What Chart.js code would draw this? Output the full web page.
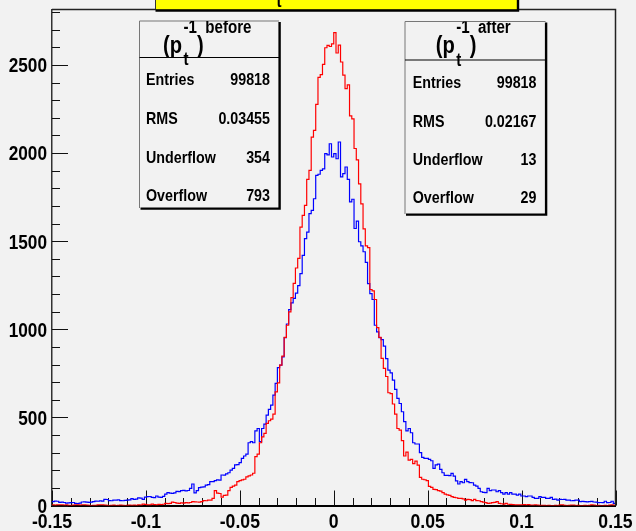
<!DOCTYPE html>
<html>
<head>
<meta charset="utf-8">
<script src="https://cdn.jsdelivr.net/npm/chart.js@4"></script>
<style>
  html, body { margin: 0; padding: 0; background: #f2f2f2; }
  canvas { display: block; }
</style>
</head>
<body>
<canvas id="c" width="636" height="531"></canvas>
<script>
// Histogram binning of 1/pt residuals
const xMin = -0.15, xMax = 0.15, nBins = 250;
const yMax = 2815;

const xTickLabels = ['-0.15', '-0.1', '-0.05', '0', '0.05', '0.1', '0.15'];
const yTickLabels = ['0', '500', '1000', '1500', '2000', '2500'];

// bin contents, (pt^-1) before the fit
const countsBefore = [
  22,25,24,18,19,17,14,15,16,17,
  12,11,13,20,21,19,18,19,22,25,
  24,26,25,35,34,28,27,31,30,32,
  28,27,29,31,32,39,35,36,43,42,
  35,48,50,51,46,45,54,47,46,52,
  65,73,70,69,72,80,79,84,86,83,
  85,97,122,72,84,101,104,106,116,118,
  135,136,141,145,144,173,172,180,186,201,
  211,230,232,243,267,281,292,356,362,356,
  424,437,362,437,462,513,545,570,626,693,
  783,797,844,953,1030,1112,1150,1175,1205,1248,
  1316,1420,1515,1552,1656,1675,1741,1874,1880,1902,
  1910,1997,1990,2053,1978,1997,1968,2063,1865,1884,
  1921,1851,1723,1738,1572,1614,1497,1474,1440,1380,
  1259,1203,1169,1023,985,953,941,904,834,768,
  753,711,659,608,579,532,476,424,437,413,
  356,349,349,300,273,267,267,262,254,211,
  230,235,205,186,171,171,170,182,167,140,
  122,135,129,148,135,130,129,116,110,97,
  78,75,73,97,84,88,88,78,84,73,
  65,73,65,73,65,65,59,65,54,54,
  50,54,54,46,40,41,50,46,46,40,
  41,46,35,36,31,35,34,35,31,30,
  27,28,31,30,22,23,22,21,22,23,
  20,19,16,17,16,24,16,17,24,12
];

// bin contents, (pt^-1) after the fit
const countsAfter = [
  3,2,3,4,3,2,3,1,0,2,
  3,4,2,3,3,2,1,0,1,1,
  3,4,3,2,1,0,1,2,0,1,
  2,1,0,1,2,1,2,1,3,2,
  8,6,4,4,8,5,4,6,5,7,
  12,11,12,19,17,14,12,15,14,16,
  15,17,22,21,20,19,22,28,27,31,
  30,41,84,70,68,47,57,59,84,103,
  110,116,135,141,145,149,163,168,173,183,
  277,292,356,390,409,466,481,490,519,645,
  696,797,848,954,1023,1099,1180,1261,1348,1403,
  1580,1647,1703,1851,1902,2091,2129,2276,2430,2445,
  2503,2598,2611,2605,2620,2684,2568,2613,2517,2443,
  2366,2387,2211,2194,2026,1961,1825,1712,1570,1474,
  1464,1226,1218,1169,1009,954,835,778,732,640,
  635,576,519,437,428,368,281,303,258,262,
  238,252,229,160,149,146,141,109,103,92,
  90,84,82,73,65,60,57,50,46,44,
  40,40,38,31,35,33,28,35,28,27,
  22,19,16,12,14,16,18,22,12,10,
  8,12,7,6,5,3,3,4,3,5,
  4,5,2,2,3,2,1,1,1,0,
  1,0,0,1,0,3,3,1,0,1,
  2,2,0,1,0,0,1,0,1,3,
  2,0,1,0,0,1,0,2,3,1
];

const statLabels = ['Entries', 'RMS', 'Underflow', 'Overflow'];
const statsBefore = ['99818', '0.03455', '354', '793'];
const statsAfter = ['99818', '0.02167', '13', '29'];

const FONT = "'Liberation Sans', Arial, Helvetica, sans-serif";
const SX = 0.84;   // horizontal squeeze of the bold face

// step outline: one point per lower bin edge plus the closing upper edge
const binWidth = (xMax - xMin) / nBins;
function toSteps(counts) {
  const pts = counts.map((c, i) => ({ x: xMin + i * binWidth, y: c }));
  pts.push({ x: xMax, y: counts[counts.length - 1] });
  return pts;
}

// condensed bold text helper
function text(c, str, x, y, size, align) {
  c.save();
  c.font = `bold ${size}px ${FONT}`;
  c.translate(x, y);
  c.scale(SX, 1);
  c.textAlign = align;
  c.textBaseline = 'alphabetic';
  c.fillText(str, 0, 0);
  c.restore();
}
function textWidth(c, str, size) {
  c.save();
  c.font = `bold ${size}px ${FONT}`;
  const w = c.measureText(str).width * SX;
  c.restore();
  return w;
}

// background, frame, ticks, axis labels, title pave and statistics boxes
const framePlugin = {
  id: 'frame',
  beforeDraw(chart) {
    const c = chart.ctx;
    c.save();
    c.fillStyle = '#f2f2f2';
    c.fillRect(0, 0, chart.width, chart.height);
    c.restore();
  },
  beforeDatasetsDraw(chart) {
    const c = chart.ctx, a = chart.chartArea;
    const xs = chart.scales.x, ys = chart.scales.y;
    c.save();
    c.strokeStyle = '#111';
    c.lineWidth = 1;
    // y ticks: minor every 100, major every 500
    for (let v = 0; v <= yMax; v += 100) {
      const y = Math.round(ys.getPixelForValue(v)) + 0.5;
      const len = (v % 500 === 0) ? 16 : 8;
      c.beginPath(); c.moveTo(a.left, y); c.lineTo(a.left + len, y); c.stroke();
    }
    // x ticks: minor every 0.01, major every 0.05
    for (let k = 0; k <= 30; k++) {
      const v = xMin + k * 0.01;
      const x = Math.round(xs.getPixelForValue(v)) + 0.5;
      const len = (k % 5 === 0) ? 15 : 7.5;
      c.beginPath(); c.moveTo(x, a.bottom); c.lineTo(x, a.bottom - len); c.stroke();
    }
    c.restore();
  },
  afterDraw(chart) {
    const c = chart.ctx, a = chart.chartArea;
    const xs = chart.scales.x, ys = chart.scales.y;
    c.save();
    c.fillStyle = '#000';
    // tick labels placed by the scales
    xs.ticks.forEach((t, i) => text(c, xTickLabels[i], xs.getPixelForValue(t.value), a.bottom + 22.5, 21, 'center'));
    ys.ticks.forEach((t, i) => text(c, yTickLabels[i], a.left - 5, ys.getPixelForValue(t.value) + 7.3, 20.5, 'right'));

    // top and right frame edges
    c.strokeStyle = '#222';
    c.lineWidth = 1.5;
    c.beginPath();
    c.moveTo(a.left, a.top); c.lineTo(a.right, a.top); c.lineTo(a.right, a.bottom);
    c.stroke();

    // title pave (mostly above the canvas)
    c.fillStyle = '#ffff00';
    c.fillRect(155.5, -5, 362, 14.8);
    c.strokeStyle = '#333'; c.lineWidth = 1;
    c.beginPath(); c.moveTo(155.5, -5); c.lineTo(155.5, 10); c.stroke();
    c.strokeStyle = '#000'; c.lineWidth = 2.4;
    c.beginPath(); c.moveTo(155.5, 10.5); c.lineTo(518, 10.5); c.lineTo(518, -5); c.stroke();
    c.save();
    c.beginPath(); c.rect(156, 0, 361, 9.5); c.clip();
    c.fillStyle = '#000';
    text(c, 't', 276.5, 6.8, 18, 'left');
    c.restore();

    drawStatBox(c, { x: 139.5, y: 21, w: 139.5, h: 187, sep: 36.5 }, 'before', statsBefore,
                [58, 97.3, 135.7, 174], 6.5, 9);
    drawStatBox(c, { x: 405, y: 21.5, w: 140.5, h: 192.5, sep: 38.5 }, 'after', statsAfter,
                [60.2, 99.5, 137.5, 175.2], 7.7, 9);
    c.restore();
  }
};

function drawStatBox(c, b, sup, values, rows, padL, padR) {
  c.save();
  c.fillStyle = '#f2f2f2';
  c.fillRect(b.x, b.y, b.w, b.h);
  // thin top/left edge, heavy right/bottom shadow
  c.strokeStyle = '#777'; c.lineWidth = 1;
  c.beginPath(); c.moveTo(b.x, b.y + b.h); c.lineTo(b.x, b.y); c.lineTo(b.x + b.w, b.y); c.stroke();
  c.strokeStyle = '#000'; c.lineWidth = 2.4;
  c.beginPath(); c.moveTo(b.x + 1, b.y + b.h + 0.6); c.lineTo(b.x + b.w + 0.6, b.y + b.h + 0.6);
  c.lineTo(b.x + b.w + 0.6, b.y + 1); c.stroke();
  // header separator
  c.strokeStyle = '#000'; c.lineWidth = 1;
  c.beginPath(); c.moveTo(b.x, b.y + b.sep); c.lineTo(b.x + b.w, b.y + b.sep); c.stroke();

  // header: (p_t^{-1})^{sup}, clipped to the box
  c.beginPath(); c.rect(b.x, b.y, b.w, b.h); c.clip();
  c.fillStyle = '#000';
  const BIG = 24, SMALL = 18;
  const wOpen = textWidth(c, '(p', BIG), wClose = textWidth(c, ')', BIG);
  const mid = Math.max(textWidth(c, 't', SMALL), textWidth(c, '-1', SMALL));
  const wS = textWidth(c, sup, SMALL);
  const total = wOpen + 1.5 + mid + wClose + 1.5 + wS;
  let x = b.x + b.w / 2 - total / 2 - 2;
  const base = b.y + 31.5;
  text(c, '(p', x, base, BIG, 'left'); x += wOpen + 1.5;
  text(c, 't', x, base + 12.5, SMALL, 'left');
  text(c, '-1', x, base - 20, SMALL, 'left');
  x += mid;
  text(c, ')', x, base, BIG, 'left'); x += wClose + 1.5;
  text(c, sup, x, base - 20, SMALL, 'left');

  // statistics rows
  statLabels.forEach((lab, i) => {
    const y = b.y + rows[i] + 6;
    text(c, lab, b.x + padL, y, 17, 'left');
    text(c, values[i], b.x + b.w - padR, y, 17, 'right');
  });
  c.restore();
}

new Chart(document.getElementById('c').getContext('2d'), {
  type: 'line',
  data: {
    datasets: [
      { label: 'after', data: toSteps(countsAfter), borderColor: '#ff0000', borderWidth: 1.2,
        stepped: 'before', pointRadius: 0, fill: false, order: 0 },
      { label: 'before', data: toSteps(countsBefore), borderColor: '#0000ff', borderWidth: 1.2,
        stepped: 'before', pointRadius: 0, fill: false, order: 1 }
    ]
  },
  options: {
    responsive: false,
    animation: false,
    devicePixelRatio: 1,
    layout: { padding: { top: 9.5, right: 20.5, left: 0, bottom: 0 } },
    plugins: { legend: { display: false }, tooltip: { enabled: false } },
    scales: {
      x: {
        type: 'linear', min: xMin, max: xMax,
        afterBuildTicks: s => { s.ticks = xTickLabels.map(t => ({ value: parseFloat(t) })); },
        afterFit: s => { s.height = 25.5; },
        ticks: { display: false },
        grid: { display: false, drawTicks: false },
        border: { display: true, color: '#000', width: 2 }
      },
      y: {
        type: 'linear', min: 0, max: yMax,
        afterBuildTicks: s => { s.ticks = yTickLabels.map(t => ({ value: parseFloat(t) })); },
        afterFit: s => { s.width = 52; },
        ticks: { display: false },
        grid: { display: false, drawTicks: false },
        border: { display: true, color: '#333', width: 1.5 }
      }
    }
  },
  plugins: [framePlugin]
});
</script>
</body>
</html>
